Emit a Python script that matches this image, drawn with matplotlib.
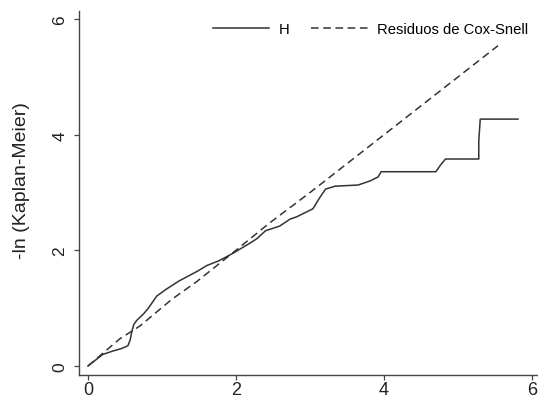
import matplotlib
matplotlib.use("Agg")
import matplotlib.pyplot as plt

# Kaplan-Meier cumulative hazard (H) vs Cox-Snell residuals
h_x = [0.0, 0.1, 0.2, 0.34, 0.45, 0.54, 0.57, 0.59, 0.62, 0.66, 0.75, 0.81,
       0.87, 0.93, 1.06, 1.23, 1.48, 1.61, 1.77, 1.96, 2.17, 2.28, 2.4, 2.59,
       2.73, 2.82, 3.04, 3.12, 3.21, 3.34, 3.65, 3.81, 3.92, 3.96, 4.70, 4.76,
       4.83, 5.28, 5.28, 5.30, 5.81]
h_y = [0.0, 0.1, 0.2, 0.26, 0.3, 0.35, 0.45, 0.58, 0.72, 0.79, 0.9, 0.99,
       1.1, 1.21, 1.33, 1.47, 1.64, 1.74, 1.82, 1.95, 2.11, 2.2, 2.34, 2.42,
       2.54, 2.58, 2.72, 2.89, 3.06, 3.11, 3.13, 3.2, 3.27, 3.36, 3.36, 3.47,
       3.58, 3.58, 3.9, 4.27, 4.27]

cs_x = [0.0, 0.43, 0.70, 1.14, 1.46, 1.95, 2.44, 3.0, 3.5, 4.0, 4.5, 5.0, 5.54]
cs_y = [0.0, 0.47, 0.69, 1.16, 1.45, 1.95, 2.46, 3.0, 3.5, 4.0, 4.5, 5.0, 5.54]

ticks = [0, 2, 4, 6]

plt.rcParams["font.family"] = ["Liberation Sans", "DejaVu Sans"]

fig = plt.figure(figsize=(5.38, 4.02), dpi=100)
ax = fig.add_axes([79 / 538, 26 / 402, 459 / 538, 364 / 402])

line_col = "#333333"
ax.plot(h_x, h_y, color=line_col, linewidth=1.1, label="H")
ax.plot(cs_x, cs_y, color=line_col, linewidth=1.1, linestyle=(0, (5, 3)),
        label="Residuos de Cox-Snell")

ax.set_xlim(-0.121, 6.08)
ax.set_ylim(-0.156, 6.14)
ax.set_xticks(ticks)
ax.set_yticks(ticks)

for side in ("top", "right"):
    ax.spines[side].set_visible(False)
for side in ("left", "bottom"):
    ax.spines[side].set_color("#444444")
    ax.spines[side].set_linewidth(1.0)

ax.tick_params(axis="both", length=3.5, width=0.9, color="#444444",
               labelcolor="#222222")
ax.tick_params(axis="x", pad=1, labelsize=13)
ax.tick_params(axis="y", pad=5, labelsize=12.5)
for lab in ax.get_yticklabels():
    lab.set_rotation(90)
    lab.set_va("center")

ax.set_ylabel("-ln (Kaplan-Meier)", fontsize=14, color="#222222")
ax.yaxis.set_label_coords(-0.106, 0.538)

ax.legend(loc="center right", bbox_to_anchor=(0.978, 0.95), ncol=2,
          frameon=False, fontsize=10.7, handlelength=3.8, handletextpad=0.6,
          columnspacing=1.5, borderpad=0, borderaxespad=0)

fig.savefig("out.png", dpi=100)
